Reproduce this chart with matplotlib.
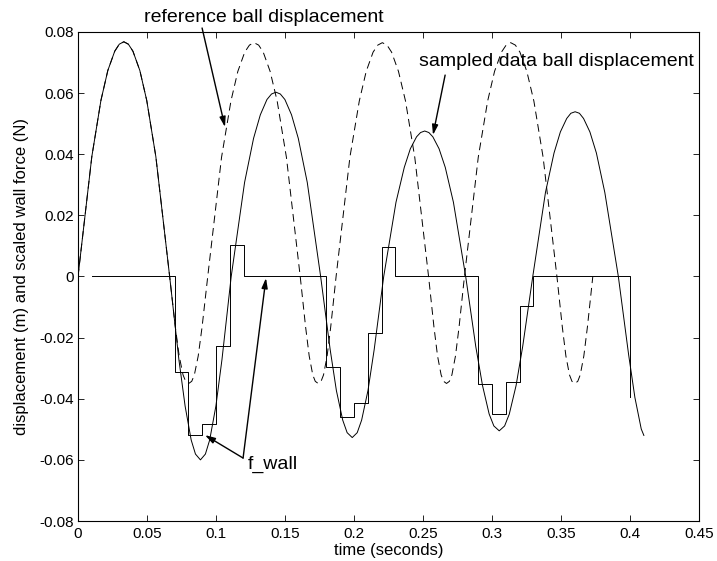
import matplotlib
matplotlib.use("Agg")
from matplotlib import pyplot as plt

plt.rcParams['font.family'] = ['Liberation Sans', 'DejaVu Sans']
plt.rcParams['axes.unicode_minus'] = False

t_ball = [0.0, 0.0100, 0.0166, 0.0216, 0.0266, 0.0299, 0.0332, 0.0365, 0.0398, 0.0448, 0.0498, 0.0564, 0.0664,
          0.0731, 0.0776, 0.0820, 0.0851, 0.0887, 0.0923, 0.0954, 0.0999, 0.1043, 0.1110,
          0.1207, 0.1272, 0.1321, 0.1369, 0.1402, 0.1434, 0.1466, 0.1499, 0.1547, 0.1596, 0.1661, 0.1758,
          0.1827, 0.1872, 0.1918, 0.1950, 0.1987, 0.2023, 0.2055, 0.2101, 0.2146, 0.2215,
          0.2304, 0.2364, 0.2408, 0.2453, 0.2482, 0.2512, 0.2542, 0.2571, 0.2616, 0.2661, 0.2720, 0.2809,
          0.2882, 0.2931, 0.2979, 0.3013, 0.3052, 0.3091, 0.3125, 0.3174, 0.3222, 0.3295,
          0.3387, 0.3449, 0.3495, 0.3541, 0.3571, 0.3602, 0.3633, 0.3663, 0.3709, 0.3756, 0.3817, 0.3915,
          0.3989, 0.4035, 0.4081, 0.4100]
y_ball = [0.0, 0.0392, 0.0576, 0.0674, 0.0737, 0.0760, 0.0768, 0.0760, 0.0737, 0.0674, 0.0576, 0.0392, 0.0,
          -0.0272, -0.0424, -0.0535, -0.0581, -0.0600, -0.0581, -0.0535, -0.0424, -0.0272, 0.0,
          0.0308, 0.0452, 0.0529, 0.0579, 0.0597, 0.0603, 0.0597, 0.0579, 0.0529, 0.0452, 0.0308, 0.0,
          -0.0239, -0.0373, -0.0470, -0.0511, -0.0527, -0.0511, -0.0470, -0.0373, -0.0239, 0.0,
          0.0243, 0.0357, 0.0418, 0.0457, 0.0471, 0.0476, 0.0471, 0.0457, 0.0418, 0.0357, 0.0243, 0.0,
          -0.0229, -0.0357, -0.0450, -0.0489, -0.0505, -0.0489, -0.0450, -0.0357, -0.0229, 0.0,
          0.0275, 0.0404, 0.0473, 0.0517, 0.0534, 0.0539, 0.0534, 0.0517, 0.0473, 0.0404, 0.0275, 0.0,
          -0.0254, -0.0396, -0.0499, -0.0520]

# reference ball displacement (dashed); first arc lies under the solid curve
t_ref = [0.0, 0.0100, 0.0166, 0.0216, 0.0266, 0.0299, 0.0332, 0.0365, 0.0398, 0.0448, 0.0498, 0.0564, 0.0664,
         0.0705, 0.0733, 0.0761, 0.0780, 0.0802, 0.0824, 0.0843, 0.0871, 0.0899, 0.0940,
         0.1040, 0.1108, 0.1158, 0.1208, 0.1242, 0.1275, 0.1309, 0.1342, 0.1392, 0.1443, 0.1510, 0.1610,
         0.1649, 0.1675, 0.1701, 0.1719, 0.1740, 0.1761, 0.1779, 0.1805, 0.1831, 0.1870,
         0.1970, 0.2038, 0.2088, 0.2138, 0.2172, 0.2205, 0.2239, 0.2272, 0.2322, 0.2373, 0.2440, 0.2540,
         0.2579, 0.2605, 0.2631, 0.2649, 0.2670, 0.2691, 0.2709, 0.2735, 0.2761, 0.2800,
         0.2900, 0.2968, 0.3018, 0.3068, 0.3102, 0.3135, 0.3169, 0.3202, 0.3252, 0.3303, 0.3370, 0.3470,
         0.3509, 0.3535, 0.3561, 0.3579, 0.3600, 0.3621, 0.3639, 0.3665, 0.3691, 0.3730]
y_ref = [0.0, 0.0392, 0.0576, 0.0674, 0.0737, 0.0760, 0.0768, 0.0760, 0.0737, 0.0674, 0.0576, 0.0392, 0.0,
         -0.0165, -0.0260, -0.0322, -0.0343, -0.0350, -0.0343, -0.0322, -0.0260, -0.0165, 0.0,
         0.0390, 0.0574, 0.0671, 0.0734, 0.0757, 0.0765, 0.0757, 0.0734, 0.0671, 0.0574, 0.0390, 0.0,
         -0.0165, -0.0260, -0.0322, -0.0343, -0.0350, -0.0343, -0.0322, -0.0260, -0.0165, 0.0,
         0.0390, 0.0574, 0.0671, 0.0734, 0.0757, 0.0765, 0.0757, 0.0734, 0.0671, 0.0574, 0.0390, 0.0,
         -0.0165, -0.0260, -0.0322, -0.0343, -0.0350, -0.0343, -0.0322, -0.0260, -0.0165, 0.0,
         0.0390, 0.0574, 0.0671, 0.0734, 0.0757, 0.0765, 0.0757, 0.0734, 0.0671, 0.0574, 0.0390, 0.0,
         -0.0165, -0.0260, -0.0322, -0.0343, -0.0350, -0.0343, -0.0322, -0.0260, -0.0165, 0.0]

# scaled wall force, held over each 0.01 s sample
t_wall = [0.01, 0.02, 0.03, 0.04, 0.05, 0.06, 0.07, 0.08, 0.09, 0.10,
          0.11, 0.12, 0.13, 0.14, 0.15, 0.16, 0.17, 0.18, 0.19, 0.20,
          0.21, 0.22, 0.23, 0.24, 0.25, 0.26, 0.27, 0.28, 0.29, 0.30,
          0.31, 0.32, 0.33, 0.34, 0.35, 0.36, 0.37, 0.38, 0.39, 0.40]
f_wall = [0, 0, 0, 0, 0, 0, -0.0311, -0.0519, -0.0483, -0.0227,
          0.0103, 0, 0, 0, 0, 0, 0, -0.0297, -0.0460, -0.0415,
          -0.0184, 0.0097, 0, 0, 0, 0, 0, 0, -0.0352, -0.0450,
          -0.0344, -0.0097, 0, 0, 0, 0, 0, 0, 0, -0.0393]

xticks = [0, 0.05, 0.1, 0.15, 0.2, 0.25, 0.3, 0.35, 0.4, 0.45]
xtick_labels = ['0', '0.05', '0.1', '0.15', '0.2', '0.25', '0.3', '0.35', '0.4', '0.45']
yticks = [-0.08, -0.06, -0.04, -0.02, 0, 0.02, 0.04, 0.06, 0.08]
ytick_labels = ['-0.08', '-0.06', '-0.04', '-0.02', '0', '0.02', '0.04', '0.06', '0.08']

fig = plt.figure(figsize=(7.17, 5.61), dpi=100)
ax = fig.add_axes([0.1088, 0.0713, 0.8662, 0.8717])

ax.plot(t_ball, y_ball, color='k', lw=0.7)
ax.plot(t_ref, y_ref, color='k', lw=0.7, linestyle=(0, (8, 5)))
ax.step(t_wall, f_wall, where='post', color='k', lw=0.7)

ax.set_xlim(0, 0.45)
ax.set_ylim(-0.08, 0.08)
ax.set_xticks(xticks)
ax.set_xticklabels(xtick_labels)
ax.set_yticks(yticks)
ax.set_yticklabels(ytick_labels)
ax.tick_params(direction='in', length=4.5, width=0.6, top=True, right=True, labelsize=11)
ax.tick_params(axis='x', pad=4)
ax.tick_params(axis='y', pad=3)
for s in ax.spines.values():
    s.set_linewidth(0.8)

ax.set_xlabel('time (seconds)', fontsize=12, labelpad=2)
ax.set_ylabel('displacement (m) and scaled wall force (N)', fontsize=12, labelpad=7)

arrow = dict(arrowstyle='-|>,head_length=0.6,head_width=0.18', color='k', lw=1.0, shrinkA=0, shrinkB=0)

ax.text(0.1344, 0.0846, 'reference ball displacement', ha='center', va='center', fontsize=14, clip_on=False)
ax.annotate('', xy=(0.1065, 0.0489), xytext=(0.0899, 0.0813), arrowprops=arrow, annotation_clip=False)

ax.text(0.3464, 0.0702, 'sampled data ball displacement', ha='center', va='center', fontsize=14)
ax.annotate('', xy=(0.2572, 0.0463), xytext=(0.266, 0.0659), arrowprops=arrow)

ax.text(0.1228, -0.0614, 'f_wall', ha='left', va='center', fontsize=14)
ax.annotate('', xy=(0.0920, -0.0519), xytext=(0.1196, -0.0594), arrowprops=arrow)
ax.annotate('', xy=(0.1362, -0.0005), xytext=(0.1196, -0.0594), arrowprops=arrow)

plt.savefig('out.png', dpi=100)
